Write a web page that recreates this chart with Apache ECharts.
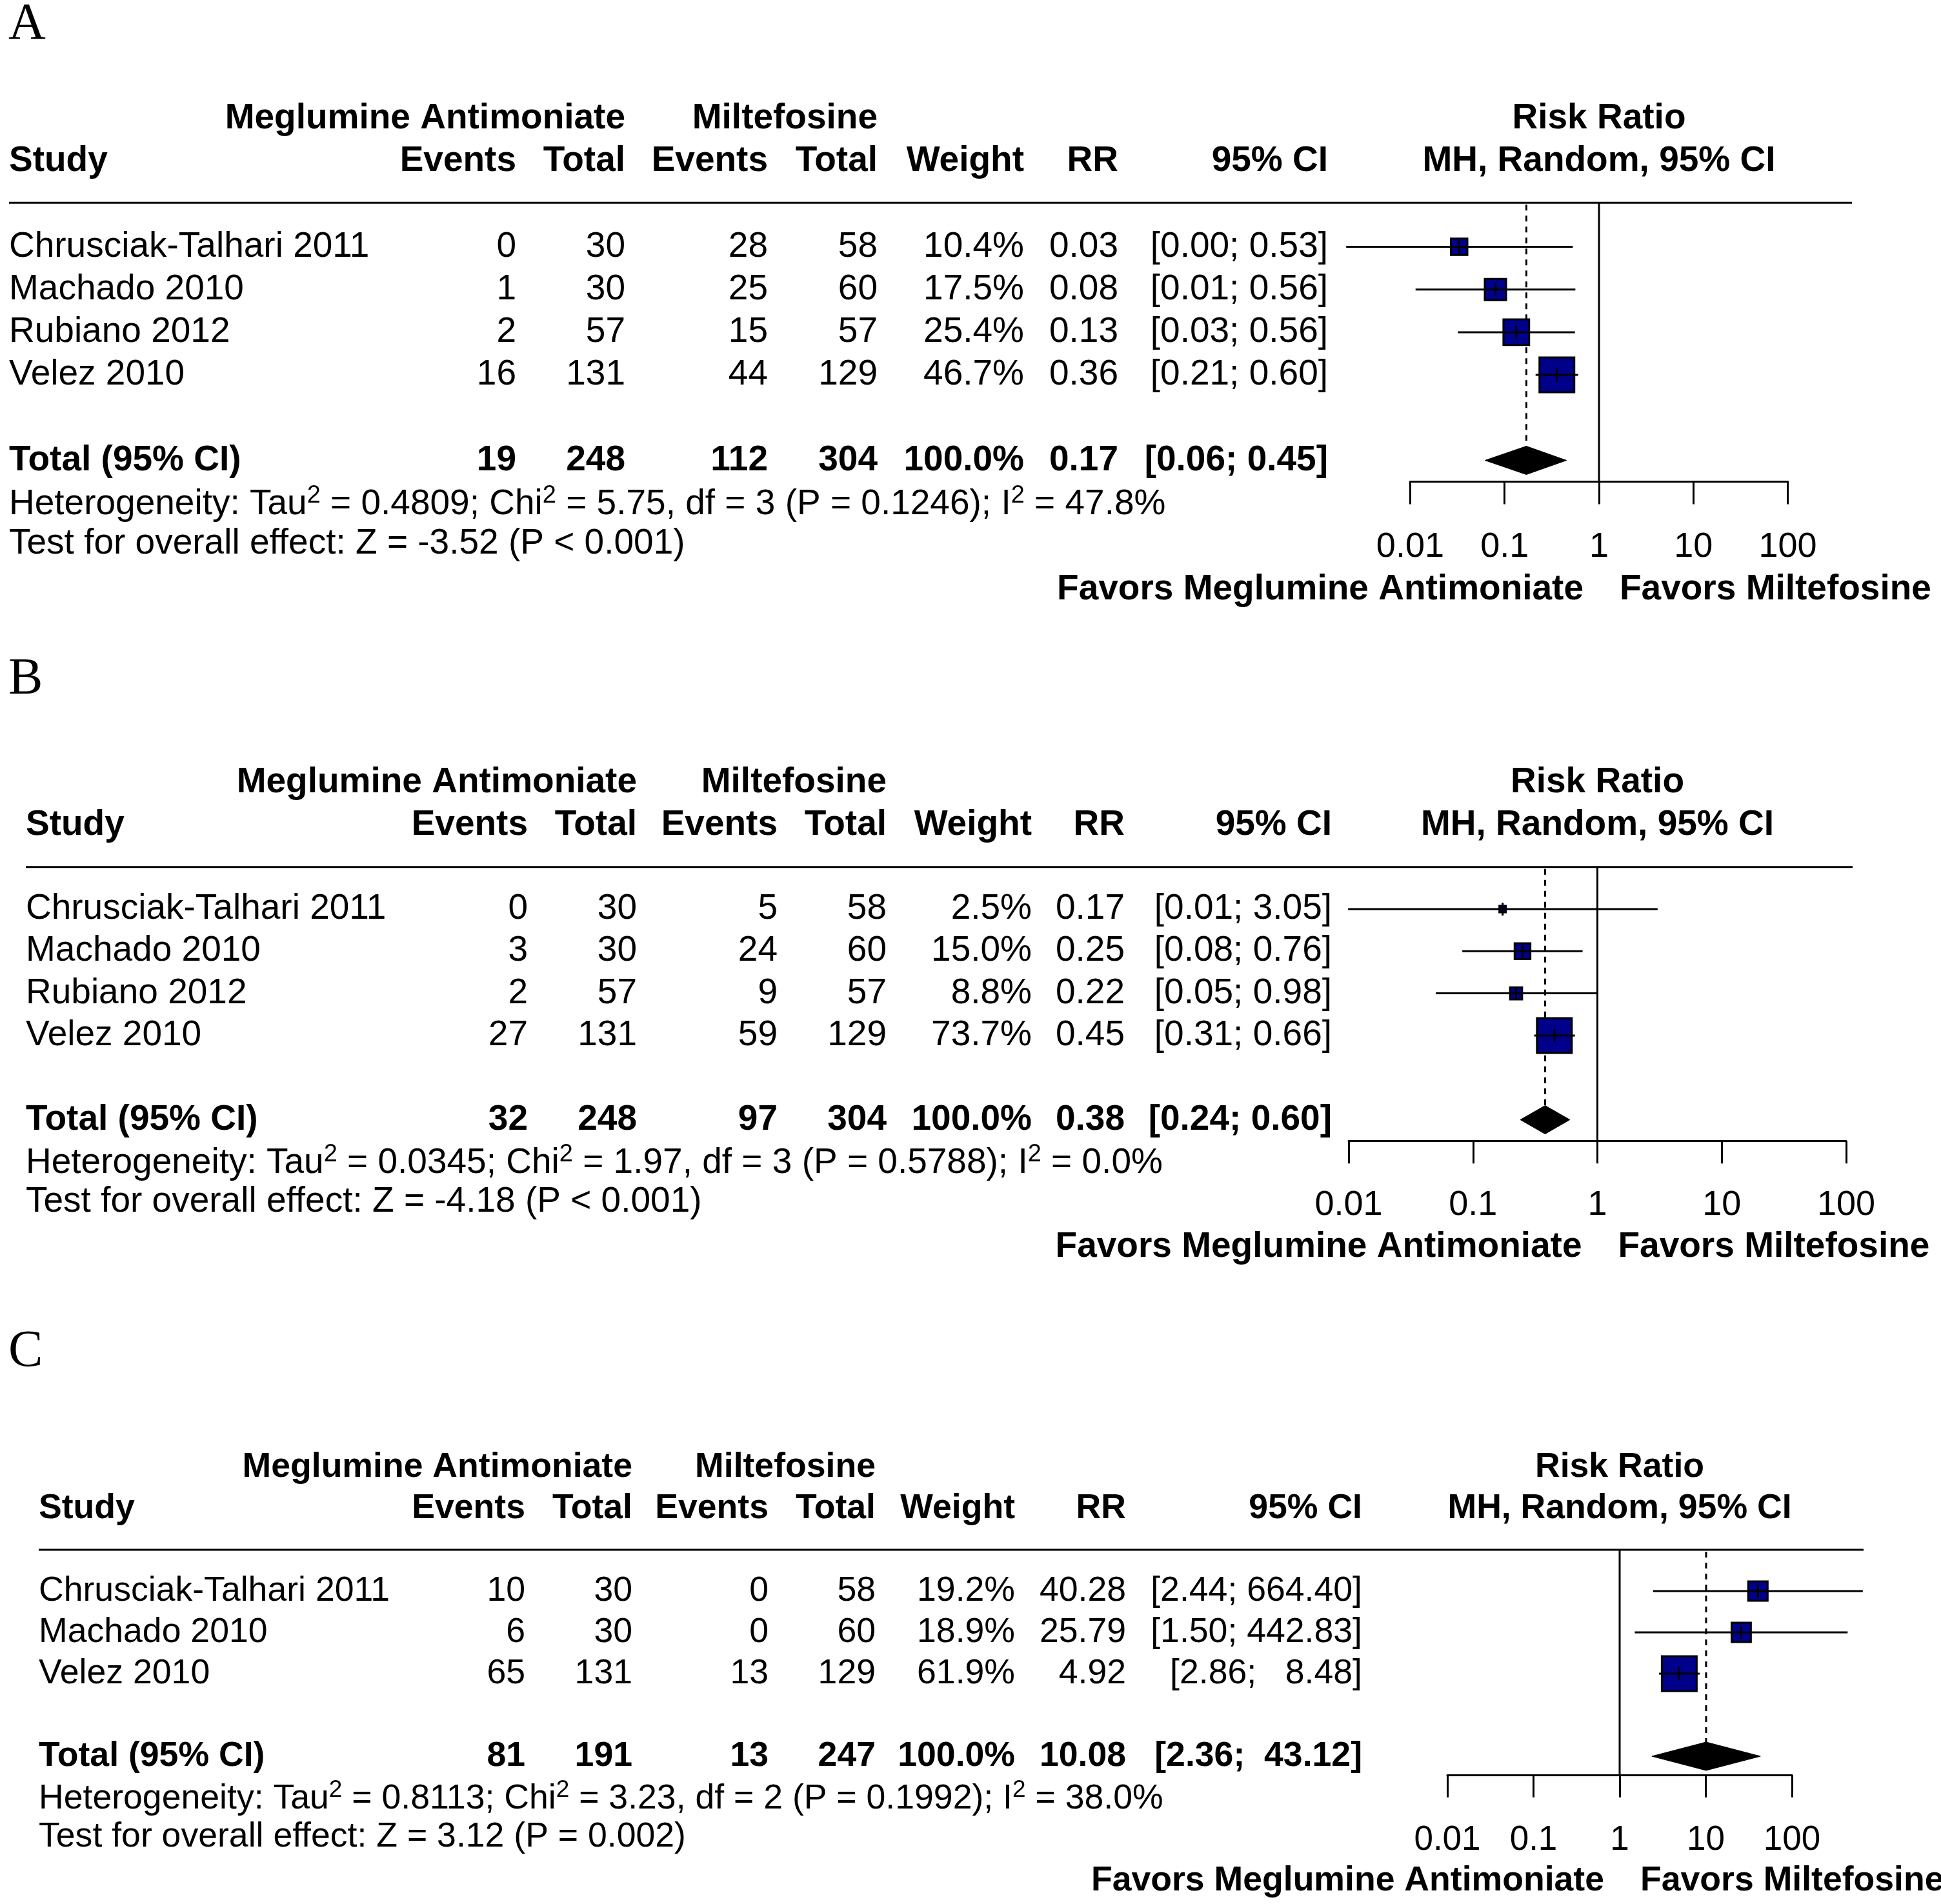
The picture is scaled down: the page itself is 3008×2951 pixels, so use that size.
<!DOCTYPE html>
<html><head><meta charset="utf-8">
<script src="https://cdn.jsdelivr.net/npm/echarts@6/dist/echarts.min.js"></script>
<style>html,body{margin:0;padding:0;background:#fff}#c{width:3008px;height:2951px}</style>
</head><body><div id="c"></div>
<script>
// ================= DATA =================
const tickLabels = ['0.01', '0.1', '1', '10', '100'];
const colHeaders = ['Study', 'Events', 'Total', 'Events', 'Total', 'Weight', 'RR', '95% CI'];
const groupHeaders = ['Meglumine Antimoniate', 'Miltefosine'];
const forestHeaders = ['Risk Ratio', 'MH, Random, 95% CI'];
const favorLabels = ['Favors Meglumine Antimoniate', 'Favors Miltefosine'];
const panelLetters = ['A', 'B', 'C'];
const totalLabel = 'Total (95% CI)';

// Panel A
const studiesA = ['Chrusciak-Talhari 2011', 'Machado 2010', 'Rubiano 2012', 'Velez 2010'];
const evMgA = [0, 1, 2, 16];
const nMgA = [30, 30, 57, 131];
const evMiA = [28, 25, 15, 44];
const nMiA = [58, 60, 57, 129];
const weightA = [10.4, 17.5, 25.4, 46.7];
const rrA = [0.033, 0.08, 0.133, 0.358];
const lowerA = [0.0021, 0.0114, 0.032, 0.213];
const upperA = [0.528, 0.562, 0.556, 0.601];
const totalsA = [19, 248, 112, 304];
const pooledA = [0.17, 0.062, 0.452];          // RR, lower, upper
const hetA = [0.4809, 5.75, 3, 0.1246, 47.8];   // Tau2, Chi2, df, P, I2
const testA = [-3.52, 'P < 0.001'];

// Panel B
const studiesB = ['Chrusciak-Talhari 2011', 'Machado 2010', 'Rubiano 2012', 'Velez 2010'];
const evMgB = [0, 3, 2, 27];
const nMgB = [30, 30, 57, 131];
const evMiB = [5, 24, 9, 59];
const nMiB = [58, 60, 57, 129];
const weightB = [2.5, 15.0, 8.8, 73.7];
const rrB = [0.173, 0.25, 0.222, 0.451];
const lowerB = [0.0099, 0.082, 0.0502, 0.31];
const upperB = [3.05, 0.76, 0.984, 0.66];
const totalsB = [32, 248, 97, 304];
const pooledB = [0.38, 0.24, 0.60];
const hetB = [0.0345, 1.97, 3, 0.5788, 0.0];
const testB = [-4.18, 'P < 0.001'];

// Panel C
const studiesC = ['Chrusciak-Talhari 2011', 'Machado 2010', 'Velez 2010'];
const evMgC = [10, 6, 65];
const nMgC = [30, 30, 131];
const evMiC = [0, 0, 13];
const nMiC = [58, 60, 129];
const weightC = [19.2, 18.9, 61.9];
const rrC = [40.28, 25.79, 4.92];
const lowerC = [2.44, 1.50, 2.86];
const upperC = [664.40, 442.83, 8.48];
const totalsC = [81, 191, 13, 247];
const pooledC = [10.08, 2.36, 43.12];
const hetC = [0.8113, 3.23, 2, 0.1992, 38.0];
const testC = [3.12, 'P = 0.002'];

const panels = [
  {studies: studiesA, evMg: evMgA, nMg: nMgA, evMi: evMiA, nMi: nMiA, weight: weightA, rr: rrA, lower: lowerA, upper: upperA, totals: totalsA, pooled: pooledA, het: hetA, test: testA},
  {studies: studiesB, evMg: evMgB, nMg: nMgB, evMi: evMiB, nMi: nMiB, weight: weightB, rr: rrB, lower: lowerB, upper: upperB, totals: totalsB, pooled: pooledB, het: hetB, test: testB},
  {studies: studiesC, evMg: evMgC, nMg: nMgC, evMi: evMiC, nMi: nMiC, weight: weightC, rr: rrC, lower: lowerC, upper: upperC, totals: totalsC, pooled: pooledC, het: hetC, test: testC}
];

// ================= LAYOUT =================
const layouts = [
  {gridLeft: 2185.4, gridWidth: 585.2, rowY1: 382.5, rowH: 66.2, ymin: -0.03, ymax: 6.5, studyX: 14,
   cols: [800, 969, 1190, 1360, 1587, 1733, 2058], lineEnd: 2870, fs: 55, tfs: 54, letterY: 38.5},
  {gridLeft: 2090, gridWidth: 771, rowY1: 1409, rowH: 65.3, ymin: 0, ymax: 6.5, studyX: 40,
   cols: [818, 987, 1205, 1374, 1599, 1743, 2064], lineEnd: 2871, fs: 55, tfs: 54, letterY: 1054},
  {gridLeft: 2243, gridWidth: 534, rowY1: 2466, rowH: 64, ymin: 0, ymax: 5.45, studyX: 60,
   cols: [814, 980, 1191, 1357, 1573, 1745, 2111], lineEnd: 2888, fs: 53.6, tfs: 53, letterY: 2096}
];
const FONT = '"Liberation Sans", Arial, Helvetica, sans-serif';
const SERIF = '"Liberation Serif", "Times New Roman", serif';
const BLUE = '#00008B';
const LW = 3;
const BOX = 54;
const DIAMOND_H = 22;
const HET_OFF = 1.03, TEST_OFF = 1.95, TICK_OFF = 2.03, FAV_OFF = 3.02;

function fmtPct(v) { return v.toFixed(1) + '%'; }

function buildPanel(p, L, gi) {
  const n = p.studies.length;
  const totalRow = n + 2;
  const wmax = Math.max.apply(null, p.weight);
  const fs = L.fs;
  const loAll = p.lower.concat([p.pooled[1]]).map(v => v.toFixed(2));
  const hiAll = p.upper.concat([p.pooled[2]]).map(v => v.toFixed(2));
  const loW = Math.max.apply(null, loAll.map(s => s.length));
  const hiW = Math.max.apply(null, hiAll.map(s => s.length));
  const pad = (s, w) => ' '.repeat(w - s.length) + s;
  const ciText = i => '[' + pad(loAll[i], loW) + '; ' + pad(hiAll[i], hiW) + ']';
  const T = (x, y, s, align, bold, extra) => ({
    type: 'text', silent: true,
    style: Object.assign({
      text: s, x: x, y: y, fill: '#000', textFill: '#000', fontSize: fs, fontFamily: FONT,
      fontWeight: bold ? 'bold' : 'normal', align: align, textAlign: align,
      verticalAlign: 'middle', textVerticalAlign: 'middle'
    }, extra || {})
  });
  const rowCells = (y, cells, bold) => cells.map((s, k) =>
    k === 0 ? T(L.studyX, y, s, 'left', bold) : T(L.cols[k - 1], y, s, 'right', bold));
  const lineEl = (x1, y1, x2, y2, dash) => ({
    type: 'line', silent: true, shape: {x1: x1, y1: y1, x2: x2, y2: y2},
    style: {stroke: '#000', lineWidth: LW, lineDash: dash || null}
  });
  const base = {type: 'custom', xAxisIndex: gi, yAxisIndex: gi, clip: false, silent: true, animation: false};

  const studySeries = Object.assign({}, base, {
    name: 'studies' + gi,
    data: p.rr.map((v, i) => [v, i + 1]),
    renderItem: function (params, api) {
      const i = params.dataIndex;
      const row = api.value(1);
      const c = api.coord([api.value(0), row]);
      const pl = api.coord([p.lower[i], row]);
      const pu = api.coord([p.upper[i], row]);
      const s = BOX * Math.sqrt(p.weight[i] / wmax);
      const y = c[1];
      const cells = [p.studies[i], String(p.evMg[i]), String(p.nMg[i]), String(p.evMi[i]), String(p.nMi[i]),
        fmtPct(p.weight[i]), p.rr[i].toFixed(2), ciText(i)];
      return {type: 'group', children: rowCells(y, cells, false).concat([
        {type: 'rect', silent: true, shape: {x: c[0] - s / 2, y: y - s / 2, width: s, height: s},
         style: {fill: BLUE, stroke: '#000', lineWidth: LW}},
        lineEl(pl[0], y, pu[0], y),
        lineEl(c[0], y - 10, c[0], y + 10)
      ])};
    }
  });

  const pooledSeries = Object.assign({}, base, {
    name: 'pooled' + gi,
    data: [[p.pooled[0], totalRow]],
    renderItem: function (params, api) {
      const row = api.value(1);
      const c = api.coord([api.value(0), row]);
      const pl = api.coord([p.pooled[1], row]);
      const pu = api.coord([p.pooled[2], row]);
      const y = c[1];
      const wsum = p.weight.reduce((a, b) => a + b, 0);
      const cells = [totalLabel].concat(p.totals.map(String), [fmtPct(wsum), p.pooled[0].toFixed(2), ciText(n)]);
      return {type: 'group', children: [
        {type: 'polygon', silent: true,
         shape: {points: [[pl[0], y], [c[0], y - DIAMOND_H], [pu[0], y], [c[0], y + DIAMOND_H]]},
         style: {fill: '#000', stroke: '#000', lineWidth: 1}}
      ].concat(rowCells(y, cells, true))};
    }
  });

  const frameSeries = Object.assign({}, base, {
    name: 'frame' + gi,
    data: [[1, L.ymin]],
    renderItem: function (params, api) {
      const top = api.coord([1, L.ymin]);
      const bot = api.coord([1, L.ymax]);
      const x1 = top[0];
      const yH1 = api.coord([1, -2])[1];
      const yH2 = api.coord([1, -1])[1];
      const yHet = api.coord([1, totalRow + HET_OFF])[1];
      const yTest = api.coord([1, totalRow + TEST_OFF])[1];
      const yFav = api.coord([1, totalRow + FAV_OFF])[1];
      const pc = api.coord([p.pooled[0], totalRow]);
      const h = p.het;
      const hetTxt = 'Heterogeneity: Tau{s|2} = ' + h[0].toFixed(4) + '; Chi{s|2} = ' + h[1].toFixed(2) +
        ', df = ' + h[2] + ' (P = ' + h[3].toFixed(4) + '); I{s|2} = ' + h[4].toFixed(1) + '%';
      const testTxt = 'Test for overall effect: Z = ' + p.test[0].toFixed(2) + ' (' + p.test[1] + ')';
      const sup = {fontSize: Math.round(fs * 0.69), lineHeight: 20, verticalAlign: 'top', fontFamily: FONT, fill: '#000', color: '#000'};
      const children = [
        lineEl(L.studyX, top[1], L.lineEnd, top[1]),
        lineEl(x1, top[1], x1, bot[1]),
        lineEl(pc[0], top[1] + 3, pc[0], pc[1] - DIAMOND_H, [9, 8]),
        T(L.cols[1], yH1, groupHeaders[0], 'right', true),
        T(L.cols[3], yH1, groupHeaders[1], 'right', true),
        T(x1, yH1, forestHeaders[0], 'center', true),
        T(x1, yH2, forestHeaders[1], 'center', true),
        T(L.studyX, yHet, hetTxt, 'left', false, {lineHeight: 64, rich: {s: sup}}),
        T(L.studyX, yTest, testTxt, 'left', false),
        T(x1 - 24, yFav, favorLabels[0], 'right', true),
        T(x1 + 32, yFav, favorLabels[1], 'left', true)
      ].concat(rowCells(yH2, colHeaders, true));
      return {type: 'group', children: children};
    }
  });
  return [frameSeries, studySeries, pooledSeries];
}

const chart = echarts.init(document.getElementById('c'), null, {renderer: 'canvas'});
const option = {
  animation: false,
  backgroundColor: '#ffffff',
  grid: layouts.map(L => ({
    left: L.gridLeft, width: L.gridWidth,
    top: L.rowY1 + (L.ymin - 1) * L.rowH, height: (L.ymax - L.ymin) * L.rowH,
    containLabel: false, outerBoundsMode: 'none'
  })),
  xAxis: layouts.map((L, i) => {
    const n = panels[i].studies.length;
    const dist = (n + 2 + TICK_OFF - L.ymax) * L.rowH;
    return {
      type: 'log', logBase: 10, gridIndex: i, min: 0.01, max: 100,
      axisLine: {show: true, onZero: false, lineStyle: {color: '#000', width: LW}},
      axisTick: {show: true, inside: false, length: 35, lineStyle: {color: '#000', width: LW}},
      minorTick: {show: false}, splitLine: {show: false},
      axisLabel: {show: true, color: '#000', fontSize: L.tfs, fontFamily: FONT, margin: dist - L.tfs / 2,
        formatter: v => tickLabels[Math.round(Math.log10(v)) + 2]}
    };
  }),
  yAxis: layouts.map((L, i) => ({type: 'value', gridIndex: i, inverse: true, min: L.ymin, max: L.ymax, show: false})),
  graphic: layouts.map((L, i) => ({
    type: 'text', left: 13, top: L.letterY - 40, silent: true,
    style: {text: panelLetters[i], fontSize: 80, fontFamily: SERIF, fill: '#000', textFill: '#000'}
  })),
  series: [].concat.apply([], panels.map((p, i) => buildPanel(p, layouts[i], i)))
};
chart.setOption(option);
</script>
</body></html>
